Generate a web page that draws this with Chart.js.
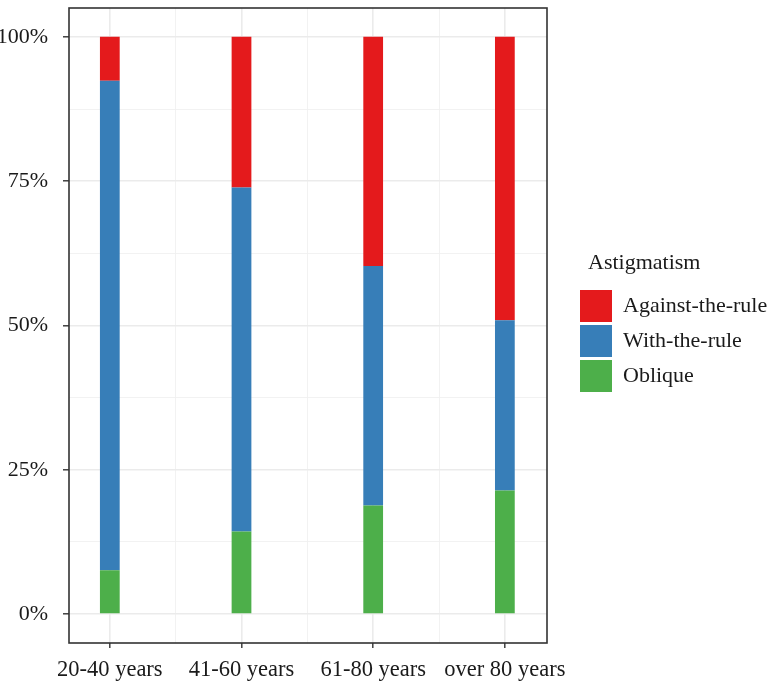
<!DOCTYPE html>
<html><head><meta charset="utf-8">
<script src="https://cdn.jsdelivr.net/npm/chart.js@4.4.1/dist/chart.umd.min.js"></script>
<style>html,body{margin:0;padding:0;background:#fff;} #wrap{width:772px;height:689px;}</style>
</head><body><div id="wrap"><canvas id="c" width="772" height="689"></canvas></div>
<script>
const categories = ['20-40 years', '41-60 years', '61-80 years', 'over 80 years'];
const categoryPositions = [1, 2, 3, 4];
const oblique = [7.6, 14.3, 18.8, 21.4];
const withTheRule = [84.8, 59.6, 41.5, 29.5];
const againstTheRule = [7.6, 26.1, 39.7, 49.1];
const seriesNames = ['Oblique', 'With-the-rule', 'Against-the-rule'];
const seriesColors = ['#4DAF4A', '#377EB8', '#E41A1C'];
const yMajorTicks = [0, 25, 50, 75, 100];
const yMinorTicks = [12.5, 37.5, 62.5, 87.5];
const xMinorTicks = [1.5, 2.5, 3.5];
const legendTitle = 'Astigmatism';

const FONT = "'Liberation Serif', 'Times New Roman', serif";
Chart.defaults.font.family = FONT;
Chart.defaults.font.size = 22;
Chart.defaults.color = '#1a1a1a';

const toPoints = vals => vals.map((v, i) => ({x: categoryPositions[i], y: v}));
const allSeries = [oblique, withTheRule, againstTheRule];

const panelBorder = {
  id: 'panelBorder',
  afterDraw(chart) {
    const {ctx, chartArea: a} = chart;
    ctx.save();
    ctx.strokeStyle = '#333333';
    ctx.lineWidth = 1.6;
    ctx.strokeRect(a.left, a.top, a.right - a.left, a.bottom - a.top);
    ctx.restore();
  }
};

// Draws the legend title just above the first legend key, aligned as in the reference.
const legendTitlePlugin = {
  id: 'legendTitlePlugin',
  afterDraw(chart) {
    const lg = chart.legend;
    if (!lg || !lg.legendHitBoxes || !lg.legendHitBoxes.length) return;
    const hb = lg.legendHitBoxes[0];
    const ctx = chart.ctx;
    ctx.save();
    ctx.font = "22px " + FONT;
    ctx.fillStyle = '#1a1a1a';
    ctx.textAlign = 'left';
    ctx.textBaseline = 'middle';
    ctx.fillText(legendTitle, hb.left + 8, hb.top - 27);
    ctx.restore();
  }
};

const isMajorX = v => categoryPositions.includes(v);
const isMajorY = v => yMajorTicks.includes(v);

new Chart(document.getElementById('c'), {
  type: 'bar',
  data: {
    datasets: allSeries.map((vals, i) => ({
      label: seriesNames[i],
      data: toPoints(vals),
      backgroundColor: seriesColors[i],
      borderWidth: 0,
      xAxisID: 'x',
      yAxisID: 'y',
      categoryPercentage: 1,
      barPercentage: 0.3
    }))
  },
  options: {
    responsive: false,
    devicePixelRatio: 1,
    animation: false,
    layout: {padding: {top: 8, right: 0, bottom: 0, left: 0}},
    plugins: {
      tooltip: {enabled: false},
      legend: {
        position: 'right',
        fullSize: false,
        align: 'center',
        reverse: true,
        maxWidth: 195,
        labels: {boxWidth: 32, boxHeight: 32, padding: 3, color: '#1a1a1a', font: {size: 22}},
        // empty title used only as vertical space reserved for the drawn legend title
        title: {display: true, text: '', font: {size: 22, lineHeight: '22px'}, padding: {top: 0, bottom: 9}}
      }
    },
    scales: {
      x: {
        type: 'linear', position: 'bottom', stacked: true, offset: false,
        min: 0.69, max: 4.32,
        afterBuildTicks: s => { s.ticks = [...categoryPositions, ...xMinorTicks].sort((a, b) => a - b).map(v => ({value: v})); },
        afterFit: s => { s.height = 46; s.paddingLeft = 0; s.paddingRight = 0; },
        border: {display: false},
        grid: {
          offset: false,
          color: c => (c.tick && isMajorX(c.tick.value)) ? '#ebebeb' : '#f1f1f1',
          lineWidth: c => (c.tick && isMajorX(c.tick.value)) ? 1.6 : 0.9,
          tickColor: c => (c.tick && isMajorX(c.tick.value)) ? '#333333' : 'rgba(0,0,0,0)',
          tickWidth: 1.4, tickLength: 5
        },
        ticks: {autoSkip: false, maxRotation: 0, minRotation: 0, padding: 9, color: '#1a1a1a',
                font: {size: 22.5},
                callback: v => { const i = categoryPositions.indexOf(v); return i >= 0 ? categories[i] : ''; }}
      },
      y: {
        type: 'linear', position: 'left', stacked: true,
        min: -5, max: 105,
        afterBuildTicks: s => { s.ticks = [...yMajorTicks, ...yMinorTicks].sort((a, b) => a - b).map(v => ({value: v})); },
        afterFit: s => { s.width = 69; s.paddingTop = 0; s.paddingBottom = 0; },
        border: {display: false},
        grid: {
          offset: false,
          color: c => (c.tick && isMajorY(c.tick.value)) ? '#ebebeb' : '#f1f1f1',
          lineWidth: c => (c.tick && isMajorY(c.tick.value)) ? 1.6 : 0.9,
          tickColor: c => (c.tick && isMajorY(c.tick.value)) ? '#333333' : 'rgba(0,0,0,0)',
          tickWidth: 1.4, tickLength: 6
        },
        ticks: {autoSkip: false, padding: 15, color: '#1a1a1a',
                callback: v => isMajorY(v) ? v + '%' : ''}
      },
      gap: {
        type: 'linear', position: 'right', display: true,
        grid: {display: false, drawTicks: false}, ticks: {display: false}, border: {display: false},
        afterFit: s => { s.width = 30; s.paddingTop = 0; s.paddingBottom = 0; }
      }
    }
  },
  plugins: [panelBorder, legendTitlePlugin]
});
</script></body></html>
